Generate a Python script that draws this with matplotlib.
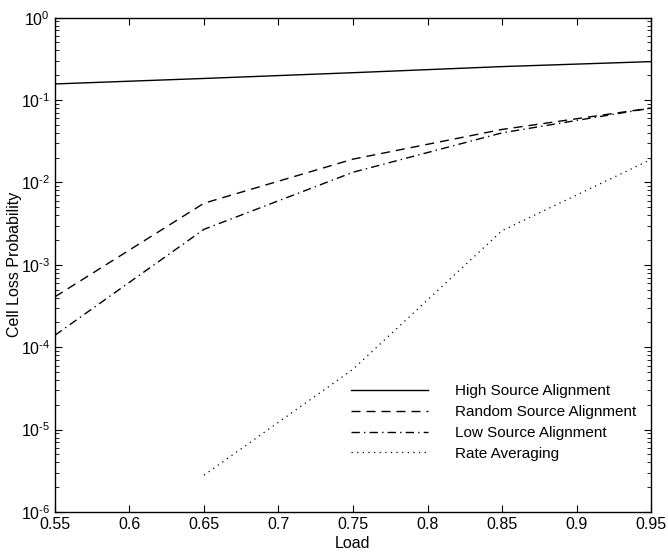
import matplotlib
matplotlib.use("Agg")
import matplotlib.pyplot as plt
from matplotlib.ticker import FixedLocator, LogLocator, NullFormatter, FixedFormatter

plt.rcParams['font.family'] = ['Liberation Sans', 'DejaVu Sans']
plt.rcParams['mathtext.fontset'] = 'custom'
plt.rcParams['mathtext.rm'] = 'Liberation Sans'
plt.rcParams['mathtext.it'] = 'Liberation Sans'

load = [0.55, 0.65, 0.75, 0.85, 0.95]
high = [0.157, 0.183, 0.215, 0.255, 0.293]
random_src = [4.1e-4, 5.6e-3, 0.0192, 0.044, 0.080]
low_src = [1.4e-4, 2.7e-3, 0.0133, 0.040, 0.080]
rate_load = [0.65, 0.75, 0.85, 0.95]
rate_avg = [2.8e-6, 5.4e-5, 2.6e-3, 0.019]

labels = ["High Source Alignment", "Random Source Alignment",
          "Low Source Alignment", "Rate Averaging"]
xticks = [0.55, 0.6, 0.65, 0.7, 0.75, 0.8, 0.85, 0.9, 0.95]
xticklabels = ["0.55", "0.6", "0.65", "0.7", "0.75", "0.8", "0.85", "0.9", "0.95"]
yticks = [1e-6, 1e-5, 1e-4, 1e-3, 1e-2, 1e-1, 1e0]
yexps = ["-6", "-5", "-4", "-3", "-2", "-1", "0"]

fig = plt.figure(figsize=(6.68, 5.52), dpi=100)
ax = fig.add_axes([55/668, 1-512/552, (651-55)/668, (512-17.7)/552])

ax.plot(load, high, color='black', lw=1.0, ls='-', label=labels[0])
ax.plot(load, random_src, color='black', lw=1.0, ls=(0, (6.5, 4.3)), label=labels[1])
ax.plot(load, low_src, color='black', lw=1.0, ls=(0, (6, 3, 1, 3)), label=labels[2])
ax.plot(rate_load, rate_avg, color='black', lw=0.9, ls=(0, (1, 3.5)), label=labels[3])

ax.set_yscale('log')
ax.set_xlim(0.55, 0.95)
ax.set_ylim(1e-6, 1e0)
ax.xaxis.set_major_locator(FixedLocator(xticks))
ax.set_xticklabels(xticklabels)
ax.yaxis.set_major_locator(FixedLocator(yticks))
ax.yaxis.set_major_formatter(FixedFormatter(
    [r"$10^{\mathregular{%s}}$" % e.replace("-", r"\text{-}") for e in yexps]))
ax.yaxis.set_minor_locator(LogLocator(base=10, subs=range(2, 10), numticks=20))
ax.yaxis.set_minor_formatter(NullFormatter())

ax.tick_params(axis='both', which='both', direction='in', top=True, right=True,
               labelsize=11.5, colors='black')
ax.tick_params(which='major', length=5, width=0.8)
ax.tick_params(which='minor', length=3, width=0.6)
for s in ax.spines.values():
    s.set_linewidth(1.0)

ax.set_xlabel("Load", fontsize=11.5)
ax.xaxis.set_label_coords(0.5, -(543 - 512) / 494.3)
ax.xaxis.label.set_va('center')
ax.set_ylabel("Cell Loss Probability", fontsize=11.5)
ax.yaxis.set_label_coords((15 - 55) / 596, 0.5)
ax.yaxis.label.set_va('center')

leg = ax.legend(frameon=False, fontsize=11, handlelength=5.0, handletextpad=1.8,
                labelspacing=0.45, loc='upper left',
                bbox_to_anchor=((345-55)/596, (512-378)/494.3), borderaxespad=0)

fig.savefig("out.png", dpi=100)
